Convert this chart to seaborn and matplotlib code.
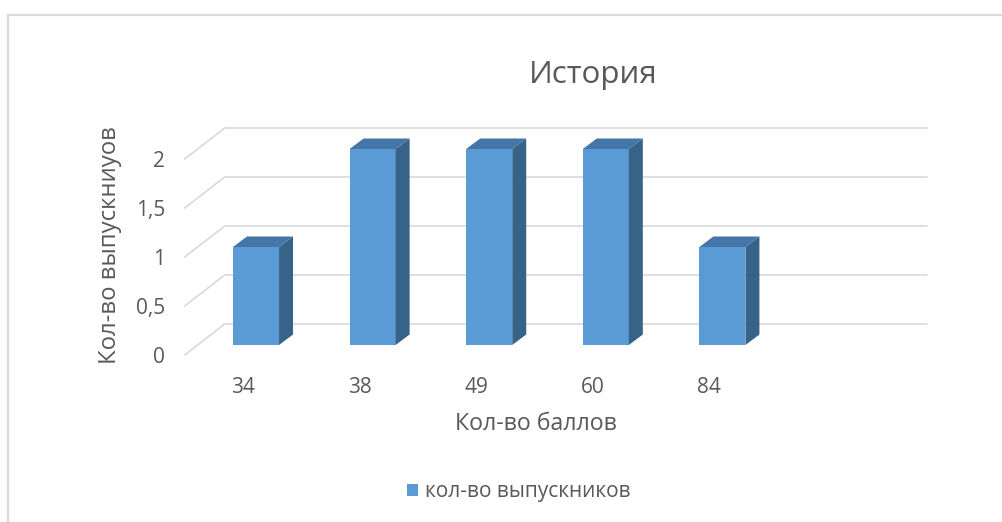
import matplotlib
matplotlib.use("Agg")
import matplotlib.pyplot as plt
import seaborn as sns
import pandas as pd
from matplotlib.patches import Polygon, Patch
from matplotlib.lines import Line2D
from matplotlib.transforms import ScaledTranslation

# ---- data ----
scores = ["34", "38", "49", "60", "84"]
graduates = [1, 2, 2, 2, 1]
y_ticks = [0, 0.5, 1, 1.5, 2]
y_tick_labels = ["0", "0,5", "1", "1,5", "2"]
title = "История"
x_title = "Кол-во баллов"
y_title = "Кол-во выпускниуов"
legend_label = "кол-во выпускников"

sns.set_theme(style="white")
plt.rcParams["font.family"] = ["Open Sans", "DejaVu Sans"]

TXT = "#595959"
GRID = "#D9D9D9"
FRONT = "#5B9BD5"
TOP = "#4476A8"
SIDE = "#386389"

W, H = 1003, 522
fig = plt.figure(figsize=(W / 100, H / 100), dpi=100)
fig.patch.set_facecolor("white")

# axes = plane of the bars' front faces (pixel layout)
ax_l, ax_r = 197.7, 897.3
ax_b, ax_t = H - 345, H - 149
ax = fig.add_axes([ax_l / W, ax_b / H, (ax_r - ax_l) / W, (ax_t - ax_b) / H])
ax.set_facecolor("none")

df = pd.DataFrame({"score": scores, "n": graduates})
sns.barplot(data=df, x="score", y="n", ax=ax, color=FRONT, width=0.395,
            saturation=1, linewidth=0, zorder=3)
ax.set_xlim(-0.5, 5.5)
ax.set_ylim(0, 2)
for s in ax.spines.values():
    s.set_visible(False)
ax.set_xlabel("")
ax.set_ylabel("")
ax.grid(False)

# plane offsets in pixels
FX, FY = -13, -10   # front plane relative to bar plane
BX, BY = 27, 21     # back wall relative to bar plane
DX, DY = 14, 10.5   # bar depth

fig.canvas.draw()
tr = ax.transData

def to_fig(pts):
    return [(x / W, y / H) for x, y in pts]

# gridlines (floor diagonals + back wall), behind bars
x0 = tr.transform((-0.5, 0))[0]
for v in y_ticks:
    py = tr.transform((0, v))[1]
    pts = [(x0 + FX, py + FY), (x0 + BX, py + BY), (927, py + BY)]
    ax.add_line(Line2D([p[0] / W for p in pts], [p[1] / H for p in pts],
                       transform=fig.transFigure, clip_on=False,
                       color=GRID, lw=1.2, zorder=1))

# 3D faces of bars
for p in list(ax.patches):
    x, y = p.get_x(), p.get_y()
    w, h = p.get_width(), p.get_height()
    (xl, yb) = tr.transform((x, y))
    (xr, yt) = tr.transform((x + w, y + h))
    top = [(xl, yt), (xr, yt), (xr + DX, yt + DY), (xl + DX, yt + DY)]
    side = [(xr, yb), (xr + DX, yb + DY), (xr + DX, yt + DY), (xr, yt)]
    for poly, col in ((top, TOP), (side, SIDE)):
        ax.add_patch(Polygon(to_fig(poly), closed=True, transform=fig.transFigure,
                             clip_on=False, facecolor=col, edgecolor="none", zorder=4))

# ticks
ax.set_yticks(y_ticks)
ax.set_yticklabels(y_tick_labels)
ax.tick_params(axis="y", length=0, pad=14.2, labelsize=15, labelcolor=TXT)
ax.tick_params(axis="x", length=0, pad=16, labelsize=15, labelcolor=TXT)
off = ScaledTranslation(FX / 100, FY / 100, fig.dpi_scale_trans)
for lab in ax.get_yticklabels() + ax.get_xticklabels():
    lab.set_transform(lab.get_transform() + off)

# titles
fig.text(593 / W, 1 - 75 / H, title, ha="center", va="center", fontsize=22.5, color=TXT)
fig.text(536 / W, 1 - 424 / H, x_title, ha="center", va="center", fontsize=16.7, color=TXT)
fig.text(110 / W, 1 - 245 / H, y_title, ha="center", va="center", rotation=90,
         fontsize=17.2, color=TXT)

# legend
handle = Patch(facecolor=FRONT, edgecolor="none")
fig.legend([handle], [legend_label], loc="center", bbox_to_anchor=(519 / W, 1 - 492 / H),
           frameon=False, fontsize=15, labelcolor=TXT, handlelength=0.5,
           handleheight=0.5, handletextpad=0.35)

# outer chart border
fig.add_artist(Line2D([8.5 / W, 8.5 / W, 1.0], [0, 1 - 14.5 / H, 1 - 14.5 / H],
                      color=GRID, lw=1.6))

fig.savefig("out.png", dpi=100)
